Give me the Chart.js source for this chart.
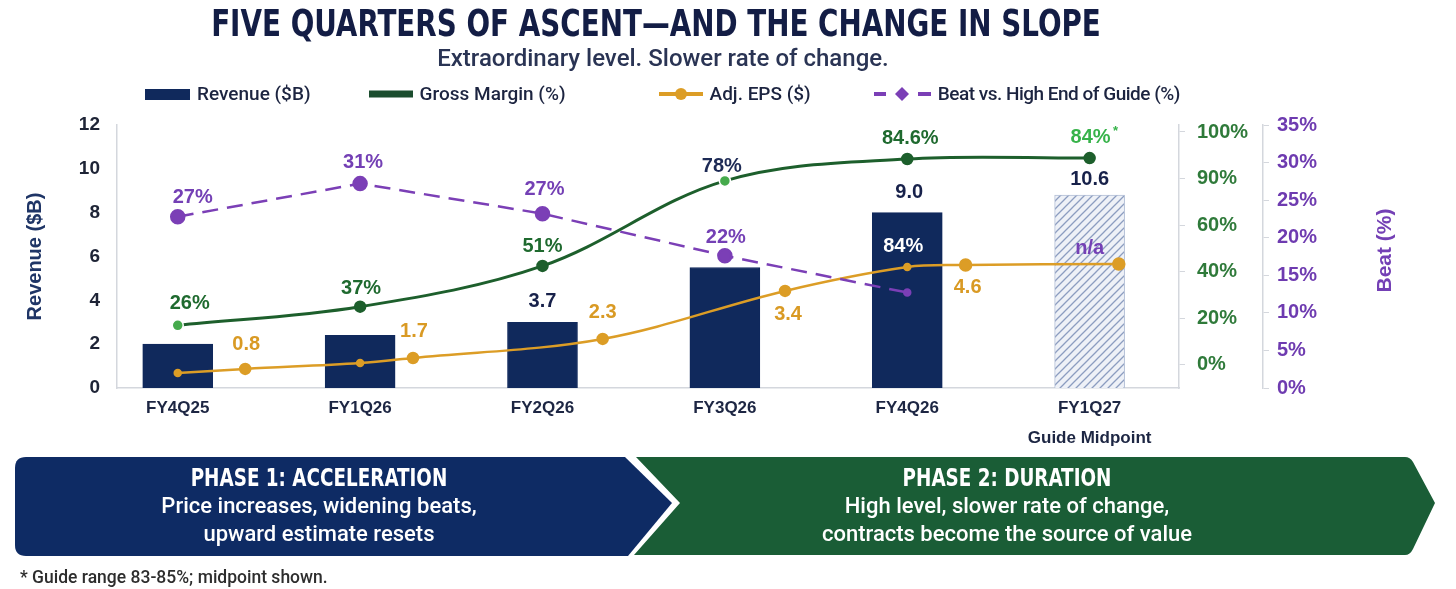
<!DOCTYPE html>
<html>
<head>
<meta charset="utf-8">
<title>Five quarters of ascent</title>
<script src="https://cdn.jsdelivr.net/npm/chart.js@4.4.1/dist/chart.umd.min.js"></script>
<style>
  html, body { margin: 0; padding: 0; background: #fff; }
  body { width: 1456px; height: 589px; position: relative; overflow: hidden; font-family: Roboto, "Liberation Sans", sans-serif; }
  #chart-wrap { position: absolute; left: 0; top: 0; width: 1456px; height: 450px; }
  #title { position: absolute; left: 0; top: 5px; width: 1312px; text-align: center; white-space: nowrap;
           font: bold 37px/37px "Liberation Sans Narrow", "DejaVu Sans Condensed", sans-serif; color: #131d45;
           transform: scaleX(0.835); transform-origin: 656px 50%; }
  #subtitle { position: absolute; left: 0; top: 46px; width: 1326px; text-align: center; white-space: nowrap;
              font: 500 24px/24px Roboto, sans-serif; color: #2a3454; }
  #legend { position: absolute; left: 145px; top: 84px; height: 20px; display: flex;
            align-items: center; font: 500 19px/20px Roboto, sans-serif; color: #1c2440; }
  #legend .item { display: flex; align-items: center; gap: 7px; white-space: nowrap; }
  #phases { position: absolute; left: 0; top: 0; }
  .phase { position: absolute; top: 464px; color: #fff; text-align: center; }
  .phase h3 { margin: 0; font: bold 24px/28px "Liberation Sans Narrow", "DejaVu Sans Condensed", sans-serif; transform: scaleX(0.85); }
  .phase p { margin: 0; font: 500 22px/28px Roboto, sans-serif; }
  #note { position: absolute; left: 20px; top: 568px; font: 500 17.5px/18px Roboto, sans-serif; color: #2d2d2d; white-space: nowrap; }
</style>
</head>
<body>
<div id="chart-wrap"><canvas id="chart"></canvas></div>
<div id="title">FIVE QUARTERS OF ASCENT—AND THE CHANGE IN SLOPE</div>
<div id="subtitle">Extraordinary level. Slower rate of change.</div>
<div id="legend"></div>

<svg id="phases" width="1456" height="589">
  <path d="M26,457 H625 L672,503 L628,556 H26 Q15,556 15,545 V468 Q15,457 26,457 Z" fill="#0e2b64"/>
  <path d="M636,457 H1405 Q1410,457 1413,462 L1435,503 L1413,549 Q1410,555 1405,555 H634 L680,503 Z" fill="#1a5d36"/>
</svg>
<div class="phase" style="left:15px;width:608px">
  <h3>PHASE 1: ACCELERATION</h3>
  <p>Price increases, widening beats,</p>
  <p>upward estimate resets</p>
</div>
<div class="phase" style="left:690px;width:634px">
  <h3>PHASE 2: DURATION</h3>
  <p>High level, slower rate of change,</p>
  <p>contracts become the source of value</p>
</div>
<div id="note">* Guide range 83-85%; midpoint shown.</div>

<script>
// data
const categories = ['FY4Q25', 'FY1Q26', 'FY2Q26', 'FY3Q26', 'FY4Q26', ['FY1Q27', 'Guide Midpoint']];
const seriesNames = ['Revenue ($B)', 'Gross Margin (%)', 'Adj. EPS ($)', 'Beat vs. High End of Guide (%)'];

const revenue = [2.0, 2.4, 3.0, 5.5, 8.0, 8.8];
const revenueLabels = ['', '', '3.7', '', '9.0', '10.6'];
const revenueInnerLabels = ['', '', '', '', '84%', ''];

const grossMargin = [17, 25, 42.5, 79, 88.4, 88.8];
const grossMarginLabels = ['26%', '37%', '51%', '78%', '84.6%', '84%*'];

const beat = [22.8, 27.2, 23.2, 17.6, 12.7, null];
const beatLabels = ['27%', '31%', '27%', '22%', '', 'n/a'];

// EPS points sit between the quarters in the picture
const epsX = [0, 0.37, 1, 1.29, 2.33, 3.33, 4, 4.32, 5.16];
const eps = [0.68, 0.87, 1.14, 1.37, 2.24, 4.43, 5.52, 5.61, 5.66];
const epsLabels = ['', '0.8', '', '1.7', '2.3', '3.4', '', '4.6', ''];

const revenueTicks = [0, 2, 4, 6, 8, 10, 12];
const marginTicks = [0, 20, 40, 60, 80, 100];
const marginTickLabels = ['0%', '20%', '40%', '60%', '90%', '100%'];
const beatTicks = [0, 5, 10, 15, 20, 25, 30, 35];

// colours
const NAVY = '#10295c', GREEN = '#1d5f2c', LIGHT_GREEN = '#45aa4c', GOLD = '#dc9d26', PURPLE = '#7b3fb6';

//legend built from the series names
const swatches = [
    `<svg width="45" height="11"><rect width="45" height="11" fill="${NAVY}"/></svg>`,
    `<svg width="44" height="8"><rect y="0.5" width="44" height="7" fill="#1b4d2e"/></svg>`,
    `<svg width="44" height="14"><line x1="0" y1="7" x2="44" y2="7" stroke="${GOLD}" stroke-width="4"/><circle cx="22" cy="7" r="6" fill="${GOLD}"/></svg>`,
    `<svg width="57" height="14"><line x1="0" y1="7" x2="12" y2="7" stroke="${PURPLE}" stroke-width="4"/><path d="M28,0 L35,7 L28,14 L21,7 Z" fill="${PURPLE}"/><line x1="44" y1="7" x2="57" y2="7" stroke="${PURPLE}" stroke-width="4"/></svg>`
];
const legendGaps = [0, 58, 93, 63];
const legendSpacing = ['0', '0', '0', '-0.5px'];
document.getElementById('legend').innerHTML = seriesNames
    .map((name, i) => `<span class="item" style="margin-left:${legendGaps[i]}px;letter-spacing:${legendSpacing[i]}">${swatches[i]}<span>${name.replace('$', '&#36;')}</span></span>`).join('');

const ctx = document.getElementById('chart').getContext('2d');

// hatched fill for the guide bar
const makeHatch = () => {
    const c = document.createElement('canvas');
    c.width = 8; c.height = 8;
    const g = c.getContext('2d');
    g.fillStyle = '#eef1f7';
    g.fillRect(0, 0, 8, 8);
    g.strokeStyle = '#8c9dc0';
    g.lineWidth = 1.3;
    g.beginPath();
    g.moveTo(0, 8); g.lineTo(8, 0);
    g.moveTo(-2, 2); g.lineTo(2, -2);
    g.moveTo(6, 10); g.lineTo(10, 6);
    g.stroke();
    return ctx.createPattern(c, 'repeat');
};
const hatch = makeHatch();

// text labels next to the marks: dataset index, texts, colours, [dx, dy] offsets
const labelSets = [
    { ds: 0, texts: revenueLabels, colors: '#17214a', off: [[0, -20], [0, -20], [0, -21], [0, -20], [2, -20], [0, -16]] },
    { ds: 0, texts: revenueInnerLabels, colors: '#ffffff', off: [[0, 0], [0, 0], [0, 0], [0, 0], [-4, 34], [0, 0]] },
    { ds: 1, texts: grossMarginLabels, colors: ['#1f6a2f', '#1f6a2f', '#1f6a2f', '#1d2a55', '#1f6a2f', '#37b34a'],
      off: [[12, -22], [1, -18], [0, -19], [-3, -14], [3, -21], [6, -21]] },
    { ds: 2, texts: epsLabels, colors: '#d99a24', off: [[0, 0], [1, -24], [0, 0], [1, -26], [0, -26], [3, 24], [0, 0], [2, 22], [0, 0]] },
    { ds: 3, texts: beatLabels, colors: '#7440b5', off: [[15, -19], [3, -21], [2, -24], [1, -18], [0, 0], [0, 0]] }
];
const naLabelAt = 18.6; // where the n/a sits on the beat axis

const valueLabels = {
    id: 'valueLabels',
    afterDatasetsDraw(chart) {
        const c = chart.ctx;
        c.save();
        c.textAlign = 'center';
        c.textBaseline = 'middle';
        labelSets.forEach(set => {
            const meta = chart.getDatasetMeta(set.ds);
            set.texts.forEach((txt, i) => {
                if (!txt) return;
                const el = meta.data[i];
                let x = chart.scales.x.getPixelForValue(el ? el.$context.parsed.x : i);
                let y = (set.ds === 3 && beat[i] === null) ? chart.scales.yBeat.getPixelForValue(naLabelAt) : el.y;
                x += set.off[i][0];
                y += set.off[i][1];
                c.fillStyle = Array.isArray(set.colors) ? set.colors[i] : set.colors;
                c.font = 'bold 20px "Liberation Sans", Arial, sans-serif';
                if (txt.endsWith('*')) {
                    const main = txt.slice(0, -1);
                    const w = c.measureText(main).width;
                    c.fillText(main, x - 5, y);
                    c.font = 'bold 13px "Liberation Sans", Arial, sans-serif';
                    c.fillText('*', x - 5 + w / 2 + 5, y - 6);
                } else {
                    c.fillText(txt, x, y);
                }
            });
        });
        c.restore();
    },
    afterDraw(chart) {
        // right axis title reads bottom-to-top like the left one
        const c = chart.ctx, area = chart.chartArea;
        c.save();
        c.translate(1385, (area.top + area.bottom) / 2 - 6);
        c.rotate(-Math.PI / 2);
        c.textAlign = 'center';
        c.textBaseline = 'middle';
        c.fillStyle = '#7440b5';
        c.font = 'bold 21px "Liberation Sans", Arial, sans-serif';
        c.fillText('Beat (%)', 0, 0);
        c.restore();
    }
};

const tickFont = { family: 'Liberation Sans', weight: 'bold', size: 19 };
const rightTickFont = { family: 'Liberation Sans', weight: 'bold', size: 20 };
const axisLine = { display: true, color: '#d4d7dd', width: 1.5 };

new Chart(ctx, {
    type: 'bar',
    data: {
        datasets: [
            {
                label: seriesNames[0],
                data: revenue.map((v, i) => ({ x: i, y: v })),
                backgroundColor: revenue.map((v, i) => i === revenue.length - 1 ? hatch : NAVY),
                borderColor: revenue.map((v, i) => i === revenue.length - 1 ? '#b3bfd6' : NAVY),
                borderWidth: 1,
                barThickness: 70,
                yAxisID: 'y',
                order: 10
            },
            {
                type: 'line',
                label: seriesNames[1],
                data: grossMargin.map((v, i) => ({ x: i, y: v })),
                borderColor: GREEN,
                borderWidth: 3,
                tension: 0.35,
                pointRadius: 5.5,
                pointBackgroundColor: [LIGHT_GREEN, GREEN, GREEN, LIGHT_GREEN, GREEN, GREEN],
                pointBorderColor: ['#fff', GREEN, GREEN, '#fff', GREEN, GREEN],
                pointBorderWidth: 1.5,
                yAxisID: 'yMargin',
                order: 1
            },
            {
                type: 'line',
                label: seriesNames[2],
                data: eps.map((v, i) => ({ x: epsX[i], y: v })),
                borderColor: GOLD,
                borderWidth: 2.5,
                tension: 0.35,
                pointRadius: [3, 5, 3, 5, 5, 5, 3, 5.5, 5.5],
                pointBackgroundColor: GOLD,
                pointBorderColor: GOLD,
                yAxisID: 'y',
                order: 3
            },
            {
                type: 'line',
                label: seriesNames[3],
                data: beat.map((v, i) => ({ x: i, y: v })),
                borderColor: PURPLE,
                borderWidth: 2.5,
                borderDash: [16, 9],
                tension: 0,
                pointRadius: [6.5, 6.5, 6.5, 6.5, 3, 0],
                pointBackgroundColor: PURPLE,
                pointBorderColor: PURPLE,
                yAxisID: 'yBeat',
                order: 2
            }
        ]
    },
    options: {
        responsive: true,
        maintainAspectRatio: false,
        animation: false,
        layout: { padding: { top: 125, left: 0, right: 0, bottom: 0 } },
        plugins: {
            legend: { display: false },
            tooltip: { enabled: false }
        },
        scales: {
            x: {
                type: 'linear',
                min: -0.333,
                max: 5.49,
                offset: false,
                afterBuildTicks: s => { s.ticks = categories.map((c, i) => ({ value: i })); },
                afterFit: s => { s.height = 62; },
                grid: { display: false, drawTicks: false },
                border: axisLine,
                ticks: {
                    autoSkip: false,
                    maxRotation: 0,
                    padding: 6,
                    color: '#1d2643',
                    font: { family: 'Liberation Sans', weight: 'bold', size: 17, lineHeight: 1.72 },
                    callback: v => categories[v]
                }
            },
            y: {
                position: 'left',
                min: 0,
                max: 12,
                afterBuildTicks: s => { s.ticks = revenueTicks.map(v => ({ value: v })); },
                afterFit: s => { s.width = 117; },
                grid: { display: false, drawTicks: false },
                border: axisLine,
                ticks: { padding: 17, color: '#1e2436', font: tickFont },
                title: {
                    display: true,
                    text: 'Revenue ($B)',
                    color: '#1f3566',
                    font: { family: 'Liberation Sans', weight: 'bold', size: 20 },
                    padding: { top: 23, bottom: 0 }
                }
            },
            yMargin: {
                position: 'right',
                min: -9.9,
                max: 103,
                afterBuildTicks: s => { s.ticks = marginTicks.map(v => ({ value: v })); },
                afterFit: s => { s.width = 84; },
                grid: { display: true, drawOnChartArea: false, drawTicks: true, tickLength: 6, color: '#d4d7dd' },
                border: axisLine,
                ticks: {
                    padding: 12,
                    color: '#2f7a3a',
                    font: rightTickFont,
                    callback: (v, i) => marginTickLabels[i]
                }
            },
            yBeat: {
                position: 'right',
                min: 0,
                max: 35,
                afterBuildTicks: s => { s.ticks = beatTicks.map(v => ({ value: v })); },
                afterFit: s => { s.width = 193; },
                grid: { display: true, drawOnChartArea: false, drawTicks: true, tickLength: 6, color: '#d4d7dd' },
                border: axisLine,
                ticks: {
                    padding: 8,
                    color: '#6e3bb0',
                    font: rightTickFont,
                    callback: v => v + '%'
                }
            }
        }
    },
    plugins: [valueLabels]
});
</script>
</body>
</html>
